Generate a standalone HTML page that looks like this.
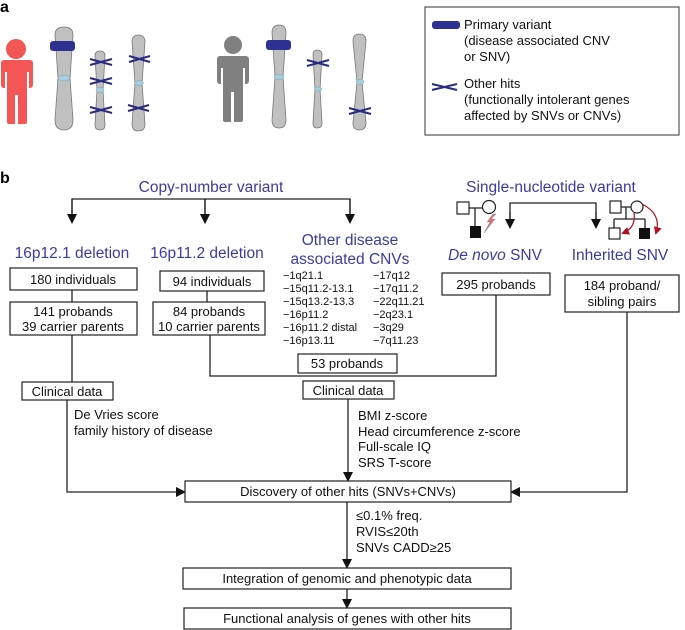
<!DOCTYPE html>
<html><head><meta charset="utf-8"><style>
html,body{margin:0;padding:0;background:#fff;}
svg{display:block;font-family:"Liberation Sans",Arial,sans-serif;}
.bl{fill:#3b3ca0;font-size:15.5px;}
.t{font-size:13px;fill:#111;}
.s{font-size:11px;fill:#111;}
.b{fill:#fff;stroke:#222;stroke-width:1.2;}
.l{stroke:#222;stroke-width:1.3;fill:none;}
.ch{fill:#c0c0c0;stroke:#777;stroke-width:0.8;}
.cen{fill:#a8cce0;stroke:#7aa;stroke-width:0.5;}
.x{stroke:#2a2a80;stroke-width:2;}
</style></head><body>
<svg width="685" height="630" viewBox="0 0 685 630">
<defs>
<marker id="ah" markerWidth="10" markerHeight="10" refX="8" refY="5" orient="auto" markerUnits="userSpaceOnUse"><path d="M0,0 L10,5 L0,10 z" fill="#111"/></marker>
<marker id="rh" markerWidth="8" markerHeight="8" refX="6" refY="4" orient="auto" markerUnits="userSpaceOnUse"><path d="M0,0 L8,4 L0,8 z" fill="#b01020"/></marker>
</defs>
<text x="0" y="12" font-size="16" font-weight="bold">a</text>
<!-- red person -->
<g fill="#f45555"><circle cx="16" cy="49" r="10"/><rect x="1" y="60" width="32" height="28" rx="3"/><rect x="7" y="80" width="20" height="44" rx="2"/></g>
<rect x="15" y="95" width="3" height="30" fill="#fff"/>
<rect x="5" y="72" width="2" height="20" fill="#fff"/><rect x="27" y="72" width="2" height="20" fill="#fff"/>
<!-- chr1 -->
<path class="ch" d="M55,35 Q55,27 64,27 Q73,27 73,35 L70,78 L73,120 Q73,130 64,130 Q55,130 55,120 L58,78 Z"/>
<ellipse class="cen" cx="64" cy="78" rx="6" ry="3"/>
<rect x="50" y="41" width="25" height="10" rx="3" fill="#2e3192"/>
<!-- chr2 -->
<path class="ch" d="M95,56 Q95,51 100,51 Q105,51 105,56 L103,90 L105,125 Q105,130 100,130 Q95,130 95,125 L97,90 Z"/>
<ellipse class="cen" cx="100" cy="90" rx="4" ry="2.5"/>
<g class="x"><path d="M90,59 L112,65 M90,65 L112,59"/><path d="M90,78 L112,84 M90,84 L112,78"/><path d="M90,107 L112,113 M90,113 L112,107"/></g>
<!-- chr3 -->
<path class="ch" d="M132,42 Q132,35 138,35 Q145,35 145,42 L142,83 L145,124 Q145,131 138,131 Q132,131 132,124 L135,83 Z"/>
<ellipse class="cen" cx="139" cy="83" rx="4.5" ry="2.5"/>
<g class="x"><path d="M129,56 L150,62 M129,62 L150,56"/><path d="M128,105 L149,111 M128,111 L149,105"/></g>
<!-- grey person -->
<g fill="#808080"><circle cx="233" cy="45" r="9"/><rect x="217" y="56" width="32" height="28" rx="3"/><rect x="223" y="76" width="20" height="46" rx="2"/></g>
<rect x="231" y="92" width="3" height="30" fill="#fff"/>
<rect x="221" y="68" width="2" height="16" fill="#fff"/><rect x="243" y="68" width="2" height="16" fill="#fff"/>
<!-- chr4 -->
<path class="ch" d="M272,33 Q272,25 279,25 Q286,25 286,33 L283,77 L286,120 Q286,128 279,128 Q272,128 272,120 L275,77 Z"/>
<ellipse class="cen" cx="279" cy="77" rx="5" ry="2.5"/>
<rect x="266" y="40" width="25" height="10" rx="3" fill="#2e3192"/>
<!-- chr5 -->
<path class="ch" d="M313,55 Q313,50 317,50 Q322,50 322,55 L320,89 L322,123 Q322,128 317,128 Q313,128 313,123 L315,89 Z"/>
<ellipse class="cen" cx="318" cy="89" rx="4" ry="2"/>
<g class="x"><path d="M307,60 L329,66 M307,66 L329,60"/></g>
<!-- chr6 -->
<path class="ch" d="M353,41 Q353,34 359,34 Q366,34 366,41 L362,82 L366,123 Q366,130 359,130 Q353,130 353,123 L357,82 Z"/>
<ellipse class="cen" cx="360" cy="82" rx="4" ry="2.5"/>
<g class="x"><path d="M349,108 L371,114 M349,114 L371,108"/></g>
<!-- legend -->
<rect x="425" y="7" width="254" height="128" fill="#fff" stroke="#333" stroke-width="1"/>
<rect x="432" y="21" width="28" height="8" rx="3" fill="#2e3192"/>
<g class="x"><path d="M432,84 L457,90 M432,90 L457,84"/></g>
<g font-size="13" fill="#111">
<text x="464" y="29">Primary variant</text><text x="464" y="45">(disease associated CNV</text><text x="464" y="61">or SNV)</text>
<text x="464" y="88">Other hits</text><text x="464" y="104">(functionally intolerant genes</text><text x="464" y="120">affected by SNVs or CNVs)</text>
</g>
<!-- panel b -->
<text x="0" y="183" font-size="16" font-weight="bold">b</text>
<text class="bl" x="211" y="192" text-anchor="middle">Copy-number variant</text>
<path class="l" d="M72,222 V199 H350 V222 M205,199 V222" marker-end="url(#ah)"/>
<path class="l" d="M72,199 V222" marker-end="url(#ah)"/>
<path class="l" d="M205,199 V222" marker-end="url(#ah)"/>
<path class="l" d="M350,199 V222" marker-end="url(#ah)"/>
<text class="bl" x="72" y="258" text-anchor="middle">16p12.1 deletion</text>
<text class="bl" x="207" y="258" text-anchor="middle">16p11.2 deletion</text>
<text class="bl" x="350" y="245" text-anchor="middle">Other disease</text>
<text class="bl" x="350" y="264" text-anchor="middle">associated CNVs</text>
<text class="bl" x="551" y="192" text-anchor="middle">Single-nucleotide variant</text>
<path class="l" d="M510,227 V203 H596 V227"/>
<path class="l" d="M510,212 V227" marker-end="url(#ah)"/>
<path class="l" d="M596,212 V227" marker-end="url(#ah)"/>
<!-- left pedigree -->
<rect x="457" y="202" width="12" height="12" class="b"/>
<circle cx="489" cy="207" r="6.5" class="b"/>
<path class="l" d="M469,208 H482 M475,208 V226"/>
<rect x="470" y="226" width="11" height="12" fill="#111"/>
<path d="M493,214 L487,222 L490,222 L484,233 L495,219 L491,219 L496,214 Z" fill="#e0707a" stroke="#888" stroke-width="0.5"/>
<!-- right pedigree -->
<rect x="610" y="201" width="11" height="12" class="b"/>
<circle cx="637" cy="207" r="6" class="b"/>
<path class="l" d="M621,207 H631 M626,207 V219 M614,219 H645 M614,219 V228 M645,219 V228"/>
<rect x="609" y="228" width="11" height="11" class="b"/>
<rect x="639" y="228" width="11" height="11" fill="#111"/>
<path d="M634,213 Q636,228 623,233" stroke="#b01020" stroke-width="1.2" fill="none" marker-end="url(#rh)"/>
<path d="M642,204 Q662,214 656,233" stroke="#b01020" stroke-width="1.2" fill="none" marker-end="url(#rh)"/>
<text class="bl" x="495" y="260" text-anchor="middle"><tspan font-style="italic">De novo</tspan> SNV</text>
<text class="bl" x="620" y="260" text-anchor="middle">Inherited SNV</text>
<!-- boxes -->
<rect class="b" x="10" y="268" width="127" height="22"/>
<text class="t" x="73" y="284" text-anchor="middle">180 individuals</text>
<path class="l" d="M72,290 V302"/>
<rect class="b" x="10" y="302" width="127" height="33"/>
<text class="t" x="73" y="316" text-anchor="middle">141 probands</text>
<text class="t" x="73" y="331" text-anchor="middle">39 carrier parents</text>
<rect class="b" x="160" y="271" width="104" height="20"/>
<text class="t" x="212" y="286" text-anchor="middle">94 individuals</text>
<path class="l" d="M207,291 V302"/>
<rect class="b" x="153" y="302" width="112" height="33"/>
<text class="t" x="209" y="316" text-anchor="middle">84 probands</text>
<text class="t" x="209" y="331" text-anchor="middle">10 carrier parents</text>
<g class="s">
<text x="283" y="279">−1q21.1</text><text x="283" y="292">−15q11.2-13.1</text><text x="283" y="305">−15q13.2-13.3</text><text x="283" y="318">−16p11.2</text><text x="283" y="331">−16p11.2 distal</text><text x="283" y="344">−16p13.11</text>
<text x="373" y="279">−17q12</text><text x="373" y="292">−17q11.2</text><text x="373" y="305">−22q11.21</text><text x="373" y="318">−2q23.1</text><text x="373" y="331">−3q29</text><text x="373" y="344">−7q11.23</text>
</g>
<rect class="b" x="442" y="273" width="108" height="22"/>
<text class="t" x="496" y="289" text-anchor="middle">295 probands</text>
<rect class="b" x="565" y="275" width="114" height="37"/>
<text class="t" x="622" y="290" text-anchor="middle">184 proband/</text>
<text class="t" x="622" y="306" text-anchor="middle">sibling pairs</text>
<rect class="b" x="298" y="354" width="99" height="19"/>
<text class="t" x="347" y="368" text-anchor="middle">53 probands</text>
<path class="l" d="M496,295 V376 H210 V335"/>
<path class="l" d="M72,335 V382"/>
<rect class="b" x="22" y="382" width="91" height="18"/>
<text class="t" x="67" y="396" text-anchor="middle">Clinical data</text>
<rect class="b" x="303" y="381" width="91" height="18"/>
<text class="t" x="348" y="395" text-anchor="middle">Clinical data</text>
<text class="t" x="74" y="419">De Vries score</text>
<text class="t" x="74" y="435">family history of disease</text>
<g class="t"><text x="358" y="420">BMI z-score</text><text x="358" y="436">Head circumference z-score</text><text x="358" y="451">Full-scale IQ</text><text x="358" y="467">SRS T-score</text></g>
<path class="l" d="M67,400 V492 H184" marker-end="url(#ah)"/>
<path class="l" d="M348,399 V480" marker-end="url(#ah)"/>
<path class="l" d="M627,312 V492 H512" marker-end="url(#ah)"/>
<rect class="b" x="185" y="481" width="326" height="21"/>
<text class="t" x="348" y="496" text-anchor="middle">Discovery of other hits (SNVs+CNVs)</text>
<g class="t"><text x="356" y="520">≤0.1% freq.</text><text x="356" y="536">RVIS≤20th</text><text x="356" y="552">SNVs CADD≥25</text></g>
<path class="l" d="M347,502 V567" marker-end="url(#ah)"/>
<rect class="b" x="183" y="568" width="328" height="21"/>
<text class="t" x="347" y="583" text-anchor="middle">Integration of genomic and phenotypic data</text>
<path class="l" d="M347,589 V607" marker-end="url(#ah)"/>
<rect class="b" x="184" y="608" width="327" height="21"/>
<text class="t" x="347" y="623" text-anchor="middle">Functional analysis of genes with other hits</text>
</svg>
</body></html>
